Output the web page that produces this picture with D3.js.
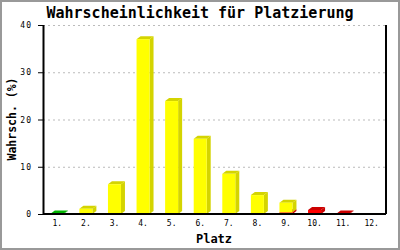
<!DOCTYPE html>
<html>
<head>
<meta charset="utf-8">
<script src="https://cdn.jsdelivr.net/npm/d3@7"></script>
<style>
  body { margin: 0; background: #fff; }
  text { font-family: "DejaVu Sans Mono", monospace; }
</style>
</head>
<body>
<svg width="400" height="250"></svg>
<script>
const svg = d3.select('svg');
const width = +svg.attr('width');
const height = +svg.attr('height');

// data (percent)
const places = ['1.', '2.', '3.', '4.', '5.', '6.', '7.', '8.', '9.', '10.', '11.', '12.'];
const greenVals  = [0.1, 0, 0, 0, 0, 0, 0, 0, 0, 0, 0, 0];
const redVals    = [0, 0, 0, 0, 0, 0, 0, 0, 0.35, 0.85, 0.1, 0];
const yellowVals = [0, 1.1, 6.3, 37.0, 23.9, 15.9, 8.5, 4.0, 2.05, 0, 0, 0];
const yTicks = [0, 10, 20, 30, 40];

// stacking order bottom -> top
const seriesList = [
  { name: 'green', values: greenVals, front: '#00d000', dark: '#00b400' },
  { name: 'red', values: redVals, front: '#ff0000', dark: '#cc0000' },
  { name: 'yellow', values: yellowVals, front: '#ffff00', dark: '#d4d400' }
];

const margin = { top: 25, right: 14, bottom: 36, left: 43 };
const innerWidth = width - margin.left - margin.right;
const innerHeight = height - margin.top - margin.bottom;

// frame
svg.append('rect')
  .attr('x', 1).attr('y', 1)
  .attr('width', width - 2).attr('height', height - 2)
  .attr('fill', '#fff')
  .attr('stroke', '#999')
  .attr('stroke-width', 2);

svg.append('text')
  .attr('x', 200).attr('y', 18)
  .attr('text-anchor', 'middle')
  .attr('font-size', 15)
  .attr('font-weight', 'bold')
  .text('Wahrscheinlichkeit für Platzierung');

const g = svg.append('g')
  .attr('transform', `translate(${margin.left},${margin.top})`);

const xScale = d3.scaleBand()
  .domain(places)
  .range([0, innerWidth]);

const yScale = d3.scaleLinear()
  .domain([0, 40])
  .range([innerHeight, 0]);

// grid
g.selectAll('.grid').data(yTicks.filter(d => d > 0))
  .enter().append('line')
    .attr('class', 'grid')
    .attr('x1', 0).attr('x2', innerWidth)
    .attr('y1', d => yScale(d) + 0.5).attr('y2', d => yScale(d) + 0.5)
    .attr('stroke', '#bbb')
    .attr('stroke-dasharray', '2,3');

// 3d bars
const barW = 13;
const dx = 4, dy = 3;
const stacks = d3.stack()
  .keys(seriesList.map(s => s.name))
  .value((d, key) => d[key])(places.map((p, i) => {
    const row = { place: p };
    seriesList.forEach(s => { row[s.name] = s.values[i]; });
    return row;
  }));

stacks.forEach((layer, li) => {
  const s = seriesList[li];
  layer.forEach((seg, i) => {
    if (seg[1] - seg[0] <= 0) return;
    const x0 = xScale(places[i]) + xScale.bandwidth() / 2 - barW / 2;
    const yTop = yScale(seg[1]);
    const yBot = yScale(seg[0]);
    const bar = g.append('g');
    // side
    bar.append('path')
      .attr('d', `M${x0 + barW},${yBot} L${x0 + barW + dx},${yBot - dy} L${x0 + barW + dx},${yTop - dy} L${x0 + barW},${yTop} Z`)
      .attr('fill', s.dark);
    // top
    bar.append('path')
      .attr('d', `M${x0},${yTop} L${x0 + dx},${yTop - dy} L${x0 + barW + dx},${yTop - dy} L${x0 + barW},${yTop} Z`)
      .attr('fill', s.dark);
    // front
    bar.append('rect')
      .attr('x', x0).attr('y', yTop)
      .attr('width', barW).attr('height', yBot - yTop)
      .attr('fill', s.front);
  });
});

// axes
const yAxis = d3.axisLeft(yScale)
  .tickValues(yTicks)
  .tickSize(5)
  .tickPadding(6);

const yAxisG = g.append('g').call(yAxis);
yAxisG.select('.domain').remove();
yAxisG.selectAll('text')
  .attr('font-size', 8)
  .attr('font-family', '"DejaVu Sans Mono", monospace')
  .attr('letter-spacing', 1);

const xAxis = d3.axisBottom(xScale)
  .tickSize(0)
  .tickPadding(6);

const xAxisG = g.append('g')
  .attr('transform', `translate(0,${innerHeight})`)
  .call(xAxis);
xAxisG.select('.domain').remove();
xAxisG.selectAll('text')
  .attr('font-size', 8)
  .attr('font-family', '"DejaVu Sans Mono", monospace');

g.append('line')
  .attr('x1', 0.5).attr('x2', 0.5)
  .attr('y1', 0).attr('y2', innerHeight)
  .attr('stroke', '#000').attr('stroke-width', 2);
g.append('line')
  .attr('x1', innerWidth).attr('x2', innerWidth)
  .attr('y1', 0).attr('y2', innerHeight)
  .attr('stroke', '#000').attr('stroke-width', 2);
g.append('line')
  .attr('x1', 0).attr('x2', innerWidth)
  .attr('y1', innerHeight).attr('y2', innerHeight)
  .attr('stroke', '#000').attr('stroke-width', 2);

// axis labels
svg.append('text')
  .attr('x', 214).attr('y', 243)
  .attr('text-anchor', 'middle')
  .attr('font-size', 12)
  .attr('font-weight', 'bold')
  .text('Platz');

svg.append('text')
  .attr('transform', 'translate(16,119) rotate(-90)')
  .attr('text-anchor', 'middle')
  .attr('font-size', 11.5)
  .attr('font-weight', 'bold')
  .text('Wahrsch. (%)');
</script>
</body>
</html>
